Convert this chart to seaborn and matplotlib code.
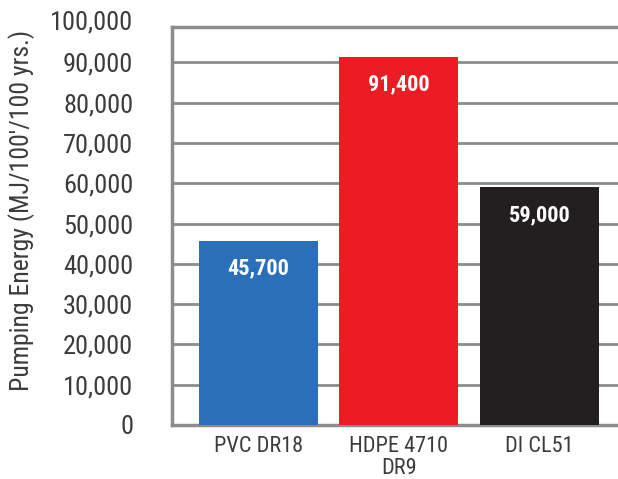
import matplotlib
matplotlib.use("Agg")
import matplotlib.pyplot as plt
import seaborn as sns
import pandas as pd

# Pumping energy over a 100-year service life, per 100 ft of pipe
materials = ["PVC DR18", "HDPE 4710\nDR9", "DI CL51"]
energy_mj = [45700, 91400, 59000]
value_labels = ["45,700", "91,400", "59,000"]
bar_colors = ["#2a6fb8", "#ed1c24", "#231f20"]
y_ticks = [0, 10000, 20000, 30000, 40000, 50000, 60000, 70000, 80000, 90000]
y_tick_labels = ["0", "10,000", "20,000", "30,000", "40,000", "50,000",
                 "60,000", "70,000", "80,000", "90,000"]
top_label = "100,000"

sns.set_style("white")
plt.rcParams["font.family"] = ["Roboto Condensed", "Archivo Narrow", "DejaVu Sans"]

df = pd.DataFrame({"material": materials, "energy": energy_mj})

fig = plt.figure(figsize=(6.18, 4.79), dpi=100)
ax = fig.add_axes([172 / 618, 54 / 479, 1 - 172 / 618, (425 - 27) / 479])

grid_gray = "#8c8c8c"
text_gray = "#3c3c3c"

sns.barplot(data=df, x="material", y="energy", hue="material",
            palette=bar_colors, width=0.848, saturation=1, legend=False,
            linewidth=0, ax=ax, zorder=3)

ax.set_xlim(-0.615, 2.56)
ax.set_ylim(0, 98800)
ax.set_yticks(y_ticks)
ax.set_yticklabels(y_tick_labels)
ax.yaxis.grid(True, color=grid_gray, linewidth=2.0)
ax.set_axisbelow(True)

tick_len_pt = 14.4
tick_pad_pt = 13.5
ax.tick_params(axis="y", which="major", direction="out", length=tick_len_pt,
               width=2.0, color=grid_gray, pad=tick_pad_pt, labelsize=19,
               labelcolor=text_gray)
ax.tick_params(axis="x", length=0, pad=8, labelsize=16, labelcolor=text_gray)
for lbl in ax.get_xticklabels():
    lbl.set_linespacing(1.05)
    lbl.set_va("top")

# the 100,000 label sits just above the top of the frame
ax.annotate(top_label, xy=(0, 100000), xycoords=("axes fraction", "data"),
            xytext=(-(tick_len_pt + tick_pad_pt), 0), textcoords="offset points",
            ha="right", va="center", fontsize=19, color=text_gray,
            annotation_clip=False)

for side in ["left", "bottom", "top"]:
    ax.spines[side].set_color(grid_gray)
    ax.spines[side].set_linewidth(2.5)
ax.spines["right"].set_visible(False)

ax.set_xlabel("")
ax.set_ylabel("Pumping Energy (MJ/100'/100 yrs.)", fontsize=18.5,
              color=text_gray)
ax.yaxis.set_label_coords(-0.307, 0.538)

for i, (v, txt) in enumerate(zip(energy_mj, value_labels)):
    ax.annotate(txt, xy=(i, v), xytext=(0, -20), textcoords="offset points",
                ha="center", va="center", color="white", fontsize=16,
                fontweight="bold", zorder=5)

fig.savefig("out.png", dpi=100)
